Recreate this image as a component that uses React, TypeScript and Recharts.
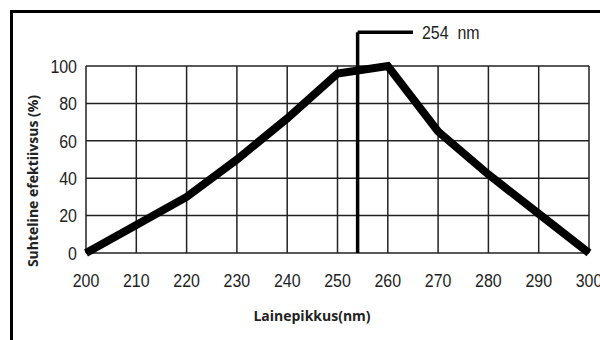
import React from 'react';
import { LineChart, Line, XAxis, YAxis, CartesianGrid, ReferenceLine, ReferenceDot } from 'recharts';

const wavelengths = [200, 210, 220, 230, 240, 250, 260, 270, 280, 290, 300];
const efficiency = [0, 15, 30, 50, 72, 96, 100, 65, 42, 21, 0];
const xTicks = [200, 210, 220, 230, 240, 250, 260, 270, 280, 290, 300];
const yTicks = [0, 20, 40, 60, 80, 100];
const markerNm = 254;
const markerLevel = 118;
const markerEndNm = 265;
const markerText = '254  nm';
const xTitle = 'Lainepikkus(nm)';
const yTitle = 'Suhteline efektiivsus (%)';

const data = wavelengths.map((w, i) => ({ nm: w, eff: efficiency[i] }));

const tickFont = '"Liberation Sans", Arial, sans-serif';
const titleFont = '"Open Sans", "Noto Sans", sans-serif';
const SQUEEZE = 0.84;

const XTick = (props: any) => {
  const { x, y, payload } = props;
  return (
    <g transform={`translate(${x},${y})`}>
      <text transform={`scale(${SQUEEZE},1)`} textAnchor="middle" dy="0.71em" fontSize={19} fontFamily={tickFont} fill="#222">
        {payload.value}
      </text>
    </g>
  );
};

const YTick = (props: any) => {
  const { x, y, payload } = props;
  return (
    <g transform={`translate(${x},${y})`}>
      <text transform={`scale(${SQUEEZE},1)`} textAnchor="end" dy="0.355em" fontSize={19} fontFamily={tickFont} fill="#222">
        {payload.value}
      </text>
    </g>
  );
};

const MarkerLabel = (props: any) => {
  const vb = props.viewBox || {};
  const x = (vb.x ?? 0) + 9;
  const y = vb.y ?? 0;
  return (
    <g transform={`translate(${x},${y})`}>
      <text transform={`scale(${SQUEEZE},1)`} textAnchor="start" dy="0.355em" fontSize={19} fontFamily={tickFont} fill="#222" style={{ whiteSpace: 'pre' }}>
        {markerText}
      </text>
    </g>
  );
};

export default function App() {
  return (
    <div style={{ position: 'fixed', left: 0, top: 0, width: 600, height: 340, overflow: 'hidden', background: '#fff' }}>
      <div style={{ position: 'absolute', left: 10, top: 10, width: 700, height: 500, border: '3px solid #000', boxSizing: 'border-box' }} />
      <div style={{ position: 'absolute', left: 0, top: 0 }}>
        <LineChart width={600} height={340} data={data} margin={{ top: 66, right: 11, left: 0, bottom: 0 }}>
          <CartesianGrid stroke="#222" strokeWidth={1.5} />
          <XAxis
            dataKey="nm"
            type="number"
            domain={[200, 300]}
            ticks={xTicks}
            height={87}
            axisLine={false}
            tickLine={false}
            tickSize={0}
            tickMargin={20}
            interval={0}
            tick={<XTick />}
          />
          <YAxis
            type="number"
            domain={[0, 100]}
            ticks={yTicks}
            width={86}
            axisLine={false}
            tickLine={false}
            tickSize={0}
            tickMargin={9}
            interval={0}
            tick={<YTick />}
          />
          <ReferenceLine
            segment={[{ x: markerNm, y: 0 }, { x: markerNm, y: markerLevel }]}
            stroke="#000"
            strokeWidth={3.5}
            ifOverflow="visible"
          />
          <ReferenceLine
            segment={[{ x: markerNm, y: markerLevel }, { x: markerEndNm, y: markerLevel }]}
            stroke="#000"
            strokeWidth={3.5}
            ifOverflow="visible"
          />
          <ReferenceDot
            x={markerEndNm}
            y={markerLevel}
            r={0}
            ifOverflow="visible"
            fill="none"
            stroke="none"
            label={<MarkerLabel />}
          />
          <Line
            type="linear"
            dataKey="eff"
            stroke="#000"
            strokeWidth={8}
            dot={false}
            activeDot={false}
            isAnimationActive={false}
          />
        </LineChart>
      </div>
      <svg width={600} height={340} style={{ position: 'absolute', left: 0, top: 0, pointerEvents: 'none' }}>
        <text x={312} y={315} textAnchor="middle" dominantBaseline="central" fontFamily={titleFont} fontWeight={700} fontSize={14} fill="#222">
          {xTitle}
        </text>
        <text
          x={32}
          y={181}
          textAnchor="middle"
          dominantBaseline="central"
          fontFamily={titleFont}
          fontWeight={700}
          fontSize={14}
          fill="#222"
          transform="rotate(-90 32 181)"
        >
          {yTitle}
        </text>
      </svg>
    </div>
  );
}
